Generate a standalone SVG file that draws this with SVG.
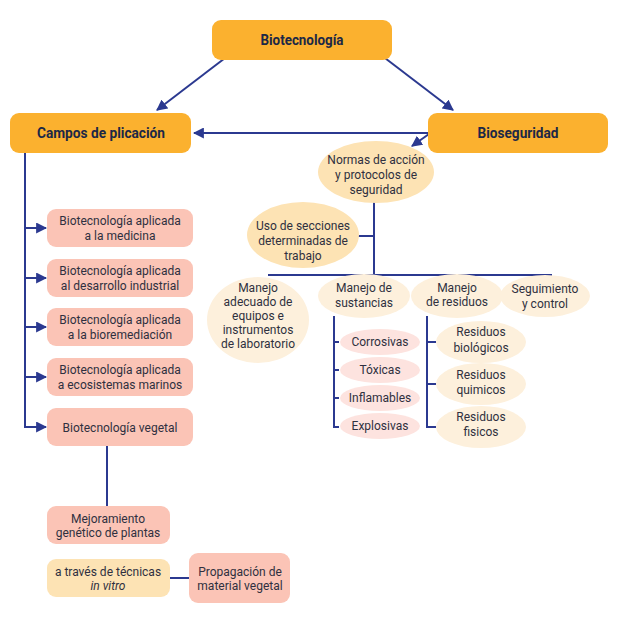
<svg xmlns="http://www.w3.org/2000/svg" width="626" height="631" viewBox="0 0 626 631">
<defs>
<style>
.main{fill:#fbb12f}
.pink{fill:#fbc4b6}
.cream{fill:#fde3b4}
.light{fill:#fdf0dc}
.rose{fill:#fde3df}
.h{font-family:Roboto,"Liberation Sans",sans-serif;font-weight:bold;font-size:14px;fill:#1c2846;text-anchor:middle}
.t{font-family:Roboto,"Liberation Sans",sans-serif;font-size:12px;fill:#2f3040;text-anchor:middle}
.ln{stroke:#2b3990;stroke-width:2;fill:none}
</style>
<marker id="ah" viewBox="0 0 10 10" refX="9" refY="5" markerWidth="5.5" markerHeight="5.5" orient="auto" markerUnits="strokeWidth">
<path d="M0,0 L10,5 L0,10 Z" fill="#2b3990"/>
</marker>
</defs>
<rect width="626" height="631" fill="#ffffff"/>

<g id="connectors">
<line class="ln" x1="229" y1="55" x2="157" y2="110" marker-end="url(#ah)"/>
<line class="ln" x1="381" y1="55" x2="453" y2="110" marker-end="url(#ah)"/>
<line class="ln" x1="428" y1="133" x2="194" y2="133" marker-end="url(#ah)"/>
<line class="ln" x1="429" y1="134" x2="412" y2="146" marker-end="url(#ah)"/>
<path class="ln" d="M25,153 V427"/>
<line class="ln" x1="25" y1="228" x2="46" y2="228" marker-end="url(#ah)"/>
<line class="ln" x1="25" y1="278" x2="46" y2="278" marker-end="url(#ah)"/>
<line class="ln" x1="25" y1="327" x2="46" y2="327" marker-end="url(#ah)"/>
<line class="ln" x1="25" y1="377" x2="46" y2="377" marker-end="url(#ah)"/>
<line class="ln" x1="24" y1="427" x2="46" y2="427" marker-end="url(#ah)"/>
<path class="ln" d="M107,446 V506"/>
<path class="ln" d="M170,578 H190"/>
<path class="ln" d="M374,200 V275"/>
<path class="ln" d="M358,236 H374"/>
<path class="ln" d="M268,275 H552"/>
<path class="ln" d="M334,316 V427 H339 M334,342 H339 M334,370 H339 M334,398 H339"/>
<path class="ln" d="M427,316 V427 H436 M427,342 H436 M427,384 H436"/>
</g>

<g id="biotecnologia"><rect class="main" x="212" y="20" width="180" height="40" rx="9"/><text class="h" x="302" y="45" textLength="83" lengthAdjust="spacingAndGlyphs">Biotecnología</text></g>
<g id="campos"><rect class="main" x="10" y="113" width="181" height="40" rx="9"/><text class="h" x="101" y="138" textLength="128" lengthAdjust="spacingAndGlyphs">Campos de plicación</text></g>
<g id="bioseguridad"><rect class="main" x="428" y="113" width="180" height="40" rx="9"/><text class="h" x="518" y="138" textLength="81" lengthAdjust="spacingAndGlyphs">Bioseguridad</text></g>

<g id="medicina"><rect class="pink" x="47" y="209" width="146" height="38" rx="9"/><text class="t" x="120" y="225">Biotecnología aplicada</text><text class="t" x="120" y="240">a la medicina</text></g>
<g id="industrial"><rect class="pink" x="47" y="259" width="146" height="38" rx="9"/><text class="t" x="120" y="275">Biotecnología aplicada</text><text class="t" x="120" y="290">al desarrollo industrial</text></g>
<g id="bioremediacion"><rect class="pink" x="47" y="308" width="146" height="38" rx="9"/><text class="t" x="120" y="324">Biotecnología aplicada</text><text class="t" x="120" y="339">a la bioremediación</text></g>
<g id="marinos"><rect class="pink" x="47" y="358" width="146" height="38" rx="9"/><text class="t" x="120" y="374">Biotecnología aplicada</text><text class="t" x="120" y="389">a ecosistemas marinos</text></g>
<g id="vegetal"><rect class="pink" x="47" y="408" width="146" height="38" rx="9"/><text class="t" x="120" y="432">Biotecnología vegetal</text></g>
<g id="mejoramiento"><rect class="pink" x="47" y="506" width="123" height="38" rx="9"/><text class="t" x="108" y="523">Mejoramiento</text><text class="t" x="108" y="537">genético de plantas</text></g>
<g id="invitro"><rect class="cream" x="47" y="559" width="123" height="38" rx="9"/><text class="t" x="108" y="576">a través de técnicas</text><text class="t" x="108" y="590" font-style="italic">in vitro</text></g>
<g id="propagacion"><rect class="pink" x="189" y="553" width="101" height="50" rx="9"/><text class="t" x="240" y="576">Propagación de</text><text class="t" x="240" y="590">material vegetal</text></g>

<g id="normas"><ellipse class="cream" cx="376" cy="172" rx="58" ry="31"/><text class="t" x="376" y="164">Normas de acción</text><text class="t" x="376" y="179">y protocolos de</text><text class="t" x="376" y="194">seguridad</text></g>
<g id="uso"><ellipse class="cream" cx="303" cy="235" rx="56" ry="33"/><text class="t" x="303" y="230">Uso de secciones</text><text class="t" x="303" y="245">determinadas de</text><text class="t" x="303" y="260">trabajo</text></g>
<g id="equipos"><ellipse class="light" cx="258" cy="320" rx="51" ry="43"/><text class="t" x="258" y="292">Manejo</text><text class="t" x="258" y="306">adecuado de</text><text class="t" x="258" y="320">equipos e</text><text class="t" x="258" y="334">instrumentos</text><text class="t" x="258" y="348">de laboratorio</text></g>
<g id="sustancias"><ellipse class="light" cx="364" cy="296" rx="46" ry="22"/><text class="t" x="364" y="292">Manejo de</text><text class="t" x="364" y="307">sustancias</text></g>
<g id="residuos"><ellipse class="light" cx="457" cy="296" rx="46" ry="22"/><text class="t" x="457" y="292">Manejo</text><text class="t" x="457" y="306">de residuos</text></g>
<g id="seguimiento"><ellipse class="light" cx="545" cy="296" rx="45" ry="21"/><text class="t" x="545" y="293">Seguimiento</text><text class="t" x="545" y="308">y control</text></g>

<g id="corrosivas"><ellipse class="rose" cx="380" cy="342" rx="40" ry="13"/><text class="t" x="380" y="346">Corrosivas</text></g>
<g id="toxicas"><ellipse class="rose" cx="380" cy="370" rx="40" ry="13"/><text class="t" x="380" y="374">Tóxicas</text></g>
<g id="inflamables"><ellipse class="rose" cx="380" cy="398" rx="40" ry="13"/><text class="t" x="380" y="402">Inflamables</text></g>
<g id="explosivas"><ellipse class="rose" cx="380" cy="426" rx="40" ry="13"/><text class="t" x="380" y="430">Explosivas</text></g>

<g id="biologicos"><ellipse class="light" cx="481" cy="342" rx="45" ry="21"/><text class="t" x="481" y="336">Residuos</text><text class="t" x="481" y="352">biológicos</text></g>
<g id="quimicos"><ellipse class="light" cx="481" cy="384" rx="45" ry="21"/><text class="t" x="481" y="379">Residuos</text><text class="t" x="481" y="394">quimicos</text></g>
<g id="fisicos"><ellipse class="light" cx="481" cy="427" rx="45" ry="21"/><text class="t" x="481" y="421">Residuos</text><text class="t" x="481" y="436">fisicos</text></g>
</svg>
